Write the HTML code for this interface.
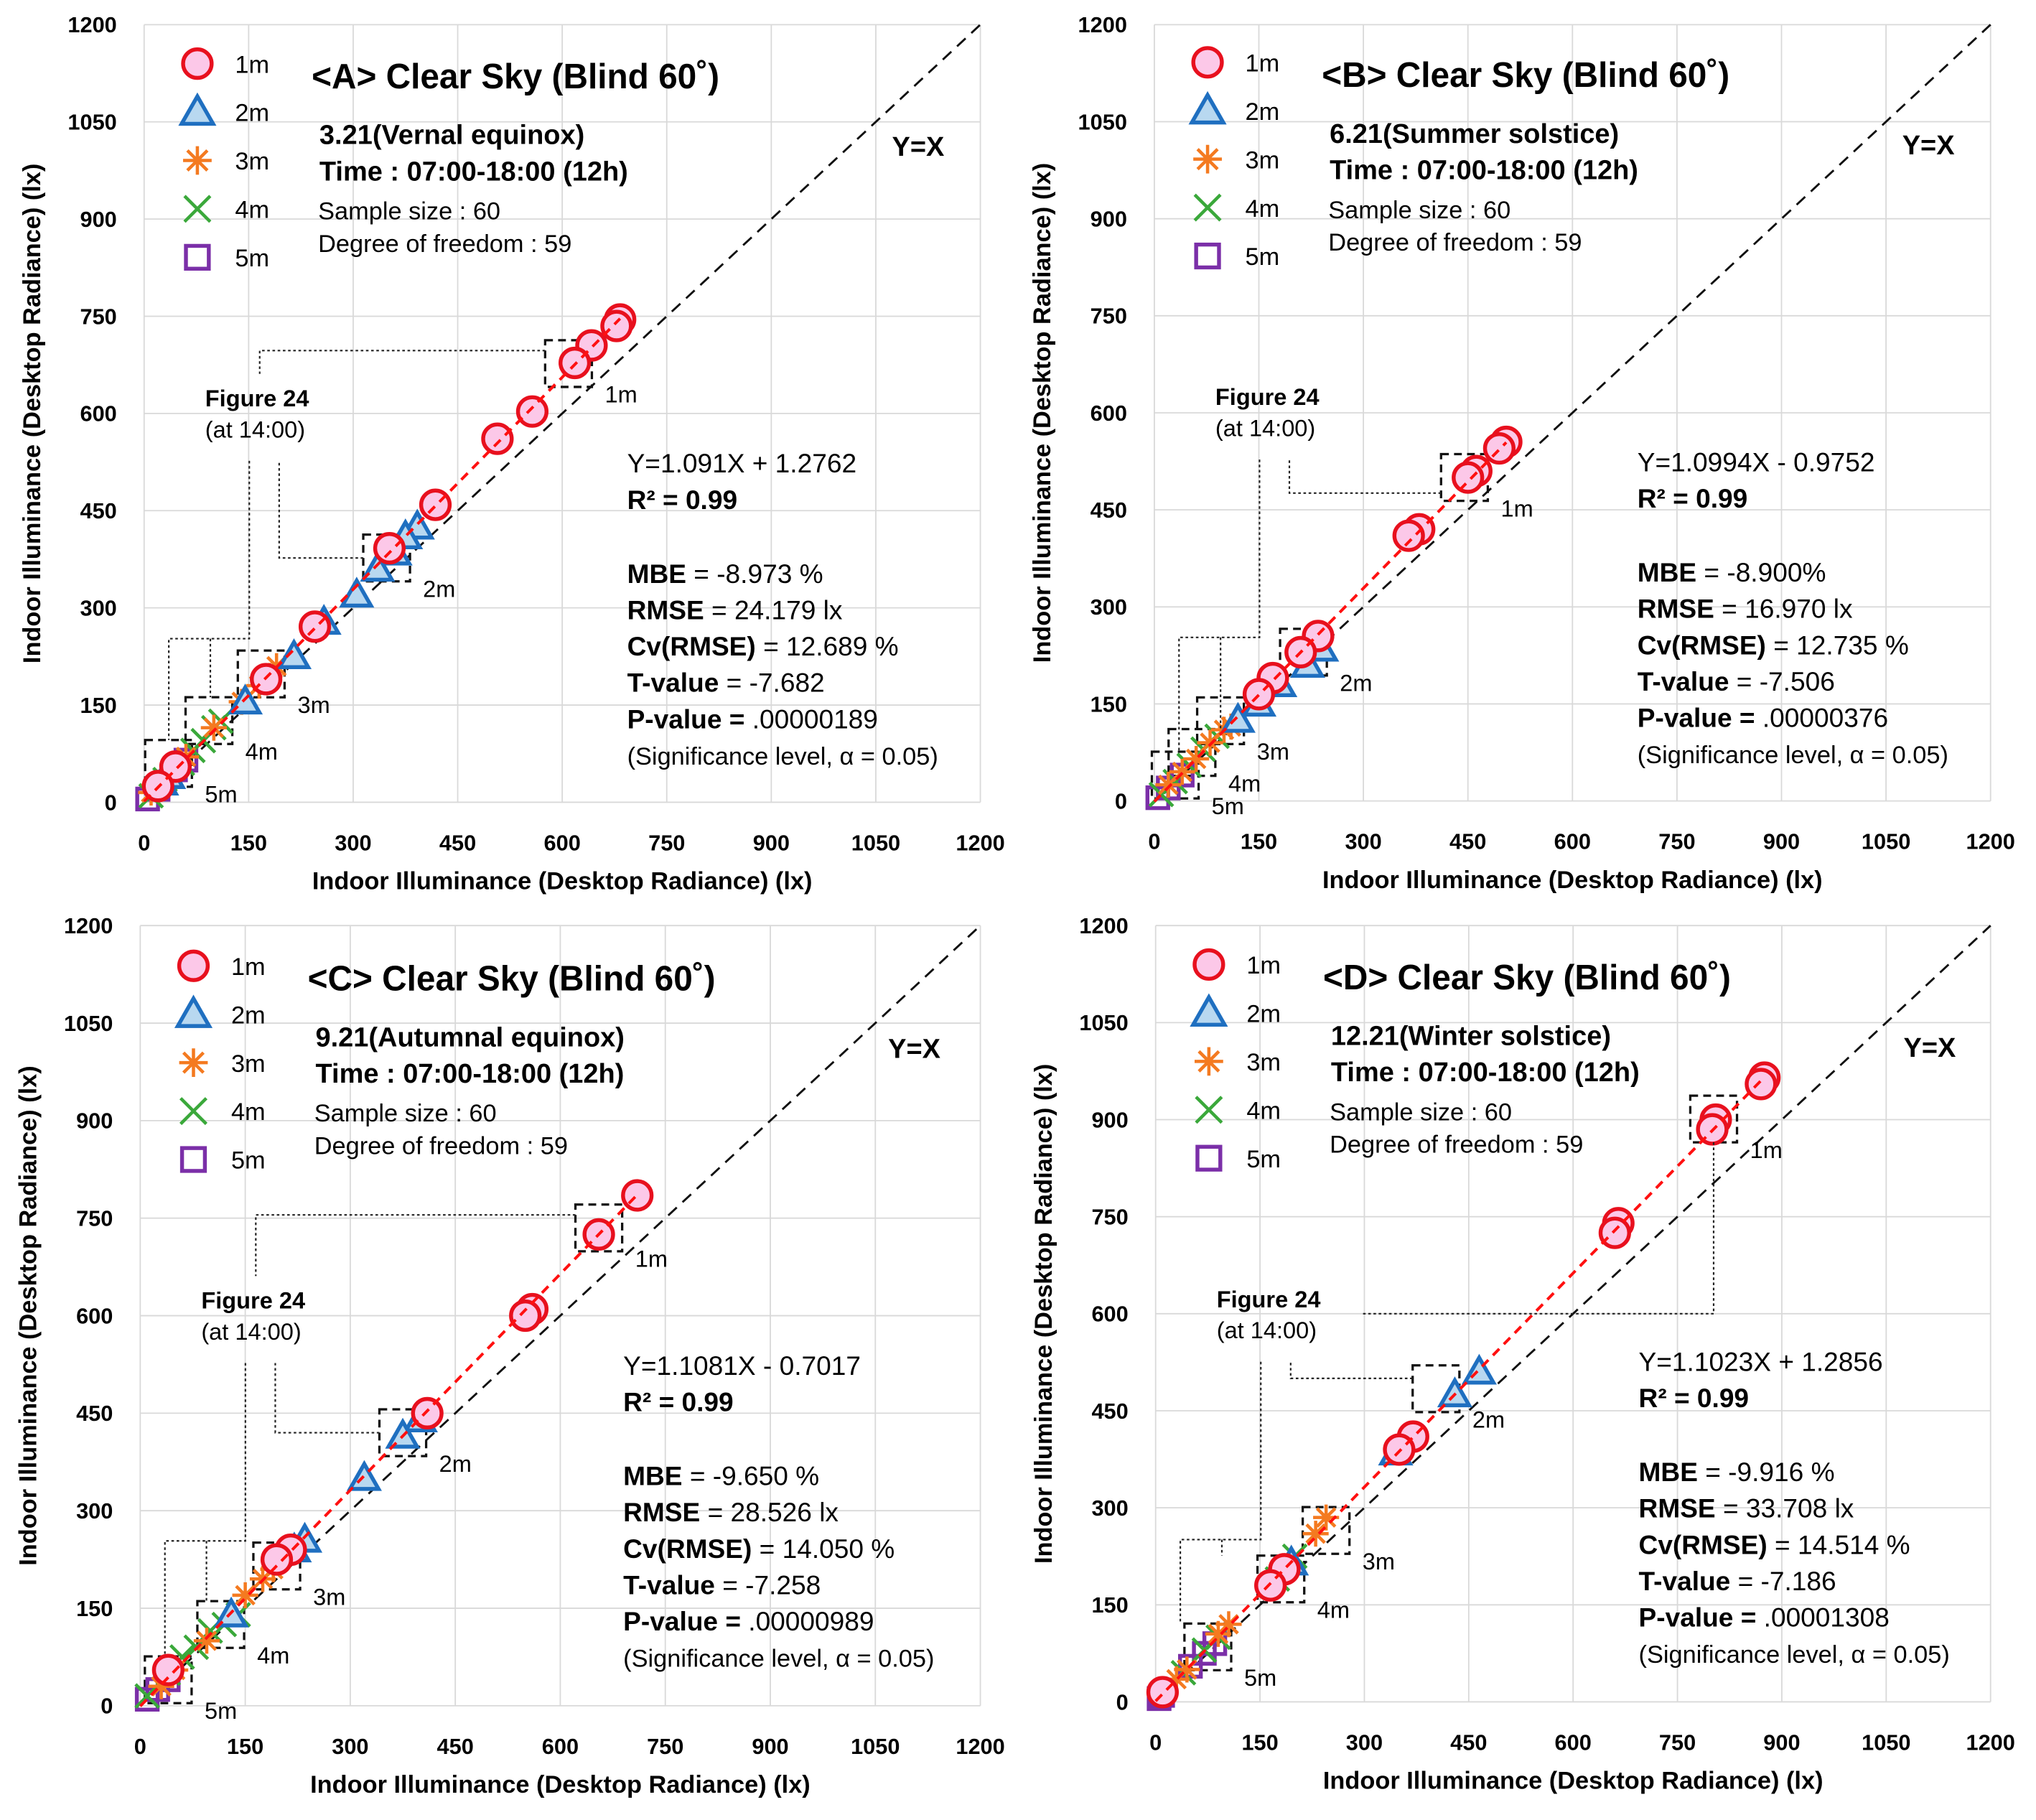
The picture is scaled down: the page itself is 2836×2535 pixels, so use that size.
<!DOCTYPE html>
<html><head><meta charset="utf-8">
<style>
html,body{margin:0;padding:0;background:#fff;}
svg{display:block;font-family:"Liberation Sans","Noto Sans CJK KR",sans-serif;}
</style></head>
<body>
<svg id="chart" width="2836" height="2535" viewBox="0 0 1568 1402" preserveAspectRatio="none" xmlns="http://www.w3.org/2000/svg"></svg>
<script>
const ticks = [0,150,300,450,600,750,900,1050,1200];
const seriesNames = ['1m','2m','3m','4m','5m'];
// Panel A data
const a1m = [[683,745],[678,735],[642,705],[618,678],[557,603],[507,561],[418,459],[352,392],[245,271],[175,190],[45,55],[20,25]];
const a2m = [[392,425],[375,410],[360,385],[335,360],[305,320],[258,278],[215,225],[145,155],[35,40],[25,30]];
const a3m = [[190,210],[180,195],[165,180],[140,155],[100,115],[60,70],[30,30],[10,15]];
const a4m = [[110,125],[100,115],[85,95],[70,80],[55,60],[30,35],[10,10]];
const a5m = [[60,65],[45,50],[20,20],[5,5]];
// Panel B data
const b1m = [[505,555],[495,545],[462,510],[450,500],[380,420],[365,410],[235,255],[210,230],[170,190],[150,165]];
const b2m = [[240,235],[220,210],[180,180],[150,150],[120,125]];
const b3m = [[110,115],[100,110],[80,90],[60,65],[40,45],[20,25]];
const b4m = [[90,100],[70,80],[50,55],[30,30],[10,10]];
const b5m = [[40,40],[20,20],[5,5]];
// Panel C data
const c1m = [[710,785],[655,725],[560,610],[550,600],[410,450],[215,240],[195,225],[40,55]];
const c2m = [[400,440],[375,415],[320,350],[235,255],[220,240],[130,140]];
const c3m = [[190,210],[175,195],[150,170],[95,100],[50,55],[30,30]];
const c4m = [[140,140],[120,125],[100,115],[80,90],[60,75],[40,50],[10,15]];
const c5m = [[40,40],[25,25],[10,10]];
// Panel D data
const d1m = [[875,965],[870,955],[805,900],[800,885],[665,740],[660,725],[370,410],[350,390],[185,205],[165,180],[10,15]];
const d2m = [[465,510],[430,475],[345,385],[195,215]];
const d3m = [[245,285],[230,260],[105,120],[90,105],[45,50],[30,35]];
const d4m = [[200,225],[175,190],[90,100],[70,80],[40,45]];
const d5m = [[85,90],[70,75],[50,55],[10,10],[5,5]];
// regression coefficients
const slopes = [1.091,1.0994,1.1081,1.1023];
const intercepts = [1.2762,-0.9752,-0.7017,1.2856];
// highlighted boxes (data-space centres)
const aBoxes = [[609,677,'1m'],[348,377,'2m'],[168,198,'3m'],[93,126,'4m'],[35,60,'5m']];
const bBoxes = [[445,500,'1m'],[214,230,'2m'],[95,124,'3m'],[54,75,'4m'],[30,40,'5m']];
const cBoxes = [[655,735,'1m'],[375,420,'2m'],[195,215,'3m'],[115,125,'4m'],[40,40,'5m']];
const dBoxes = [[802,901,'1m'],[403,484,'2m'],[245,265,'3m'],[180,190,'4m'],[75,85,'5m']];

const panels = [
 {id:'a',ox:0,oy:0,x0:111,x1:755,y0:618,y1:19,data:[a1m,a2m,a3m,a4m,a5m],boxes:aBoxes,
  title:'<A> Clear Sky (Blind 60˚)',sub:'3.21(Vernal equinox)',eq:'Y=1.091X + 1.2762',
  mbe:'-8.973 %',rmse:'24.179 lx',cv:'12.689 %',t:'-7.682',p:'.00000189',mode:'top',sdy:0},
 {id:'b',ox:778,oy:-1,x0:889,x1:1533,y0:617,y1:19,data:[b1m,b2m,b3m,b4m,b5m],boxes:bBoxes,
  title:'<B> Clear Sky (Blind 60˚)',sub:'6.21(Summer solstice)',eq:'Y=1.0994X - 0.9752',
  mbe:'-8.900%',rmse:'16.970 lx',cv:'12.735 %',t:'-7.506',p:'.00000376',mode:'side',sdy:0},
 {id:'c',ox:-3,oy:695,x0:108,x1:755,y0:1314,y1:713,data:[c1m,c2m,c3m,c4m,c5m],boxes:cBoxes,
  title:'<C> Clear Sky (Blind 60˚)',sub:'9.21(Autumnal equinox)',eq:'Y=1.1081X - 0.7017',
  mbe:'-9.650 %',rmse:'28.526 lx',cv:'14.050 %',t:'-7.258',p:'.00000989',mode:'top',sdy:0},
 {id:'d',ox:779,oy:694,x0:890,x1:1533,y0:1311,y1:713,data:[d1m,d2m,d3m,d4m,d5m],boxes:dBoxes,
  title:'<D> Clear Sky (Blind 60˚)',sub:'12.21(Winter solstice)',eq:'Y=1.1023X + 1.2856',
  mbe:'-9.916 %',rmse:'33.708 lx',cv:'14.514 %',t:'-7.186',p:'.00001308',mode:'down',sdy:-2}
];

const NS='http://www.w3.org/2000/svg';
const svg=document.getElementById('chart');
function mk(tag,attrs,parent,text){
  const e=document.createElementNS(NS,tag);
  for(const k in attrs) e.setAttribute(k,attrs[k]);
  if(text!==undefined) e.textContent=text;
  (parent||svg).appendChild(e);
  return e;
}
const colors=['#e8101e','#1f6fc0','#f47a20','#3aa83a','#7b2fa8'];
const fills=['#fcc8e8','#b8d8f0','none','none','none'];

function marker(g,s,x,y,size){
  let e;
  if(s===0){ e=mk('circle',{cx:x,cy:y,r:size,fill:fills[0],stroke:colors[0],'stroke-width':3},g); }
  else if(s===1){ const h=size*1.1; e=mk('polygon',{points:`${x},${y-h} ${x-h},${y+h*0.75} ${x+h},${y+h*0.75}`,fill:fills[1],stroke:colors[1],'stroke-width':3},g); }
  else if(s===2){ const r=size; e=mk('path',{d:`M${x-r} ${y}H${x+r}M${x-r*0.7} ${y-r*0.7}L${x+r*0.7} ${y+r*0.7}M${x+r*0.7} ${y-r*0.7}L${x-r*0.7} ${y+r*0.7}M${x} ${y-r}V${y+r}`,stroke:colors[2],'stroke-width':2.5,fill:'none'},g); }
  else if(s===3){ const r=size*0.9; e=mk('path',{d:`M${x-r} ${y-r}L${x+r} ${y+r}M${x+r} ${y-r}L${x-r} ${y+r}`,stroke:colors[3],'stroke-width':2.5,fill:'none'},g); }
  else { const r=size*0.8; e=mk('rect',{x:x-r,y:y-r,width:2*r,height:2*r,fill:'none',stroke:colors[4],'stroke-width':3},g); }
  return e;
}

panels.forEach((P,pi)=>{
  const g=mk('g',{});
  
  
  const sx=v=>P.x0+(P.x1-P.x0)*v/1200;
  const sy=v=>P.y0+(P.y1-P.y0)*v/1200;
  const X=v=>v+P.ox, Y=v=>v+P.oy;
  ticks.forEach(t=>{
    const gl=mk('line',{x1:sx(t),x2:sx(t),y1:P.y0,y2:P.y1,stroke:'#d9d9d9','stroke-width':1},g);
    
    
    const gh=mk('line',{x1:P.x0,x2:P.x1,y1:sy(t),y2:sy(t),stroke:'#d9d9d9','stroke-width':1},g);
    
    
    const xt=mk('text',{x:sx(t),y:P.y0+37,'text-anchor':'middle','font-size':17,'font-weight':'bold'},g,String(t));
    
    
    const yt=mk('text',{x:P.x0-21,y:sy(t)+6,'text-anchor':'end','font-size':17,'font-weight':'bold'},g,String(t));
    
    
  });
  const xa=mk('text',{x:(P.x0+P.x1)/2,y:P.y0+67,'text-anchor':'middle','font-size':19,'font-weight':'bold'},g,'Indoor Illuminance (Desktop Radiance) (lx)');
  
  
  const yx=P.x0-80, ym=(P.y0+P.y1)/2;
  const ya=mk('text',{x:yx,y:ym,'text-anchor':'middle','font-size':19,'font-weight':'bold',transform:`rotate(-90 ${yx} ${ym})`},g,'Indoor Illuminance (Desktop Radiance) (lx)');
  
  
  const idl=mk('line',{x1:sx(0),y1:sy(0),x2:sx(1200),y2:sy(1200),stroke:'#111','stroke-width':1.6,'stroke-dasharray':'9 6'},g);
  
  
  P.boxes.forEach(b=>{
    const bx=sx(b[0]),by=sy(b[1]);
    const r=mk('rect',{x:bx-18,y:by-18,width:36,height:36,fill:'none',stroke:'#111','stroke-width':1.8,'stroke-dasharray':'6 4'},g);
    
    
    const l=mk('text',{x:bx+28,y:by+30,'font-size':18},g,b[2]);
    
    
  });
  for(let s=4;s>=0;s--){
    P.data[s].forEach(pt=>{
      const m=marker(g,s,sx(pt[0]),sy(pt[1]),s===0?11:10);
      
      
    });
  }
  const all=P.data[0];
  const xmax=Math.max(...all.map(p=>p[0]));
  const rl=mk('line',{x1:sx(0),y1:sy(intercepts[pi]),x2:sx(xmax),y2:sy(slopes[pi]*xmax+intercepts[pi]),stroke:'#ff1010','stroke-width':2.2,'stroke-dasharray':'7 5'},g);
  
  
  const leg=mk('g',{},g);
  
  
  seriesNames.forEach((n,i)=>{
    const ly=Y(49+i*37.3);
    const m=marker(leg,i,X(152),ly,11);
    
    
    const t=mk('text',{x:X(181),y:ly+7,'font-size':19},leg,n);
    
    
  });
  const tt=mk('text',{x:X(240),y:Y(68),'font-size':27,'font-weight':'bold',textLength:314,lengthAdjust:'spacingAndGlyphs'},g,P.title);
  
  
  const st=mk('text',{x:X(246),y:Y(111),'font-size':21,'font-weight':'bold'},g,P.sub);
  
  
  const tm=mk('text',{x:X(246),y:Y(139),'font-size':21,'font-weight':'bold'},g,'Time : 07:00-18:00 (12h)');
  
  
  const ss=mk('text',{x:X(245),y:Y(169),'font-size':19},g,'Sample size : 60');
  
  
  const df=mk('text',{x:X(245),y:Y(194),'font-size':19},g,'Degree of freedom : 59');
  
  
  const yxl=mk('text',{x:X(687),y:Y(120),'font-size':21,'font-weight':'bold'},g,'Y=X');
  
  
  const by=P.sdy;
  const lines=[
    ['regression-equation',[['',P.eq]],364],
    ['r-squared',[['b','R² = 0.99']],392],
    ['mbe',[['b','MBE'],['',' = '+P.mbe]],449],
    ['rmse',[['b','RMSE'],['',' = '+P.rmse]],477],
    ['cv-rmse',[['b','Cv(RMSE)'],['',' = '+P.cv]],505],
    ['t-value',[['b','T-value'],['',' = '+P.t]],533],
    ['p-value',[['b','P-value = '],['',P.p]],561],
    ['significance-note',[['','(Significance level, α = 0.05)']],589]
  ];
  lines.forEach(L=>{
    const t=mk('text',{x:X(483),y:Y(L[2]+by),'font-size':L[0]==='significance-note'?19:20.5},g);
    
    
    L[1].forEach(seg=>{ mk('tspan',{'font-weight':seg[0]==='b'?'bold':'normal'},t,seg[1]); });
  });
  const fx=X(158), fy=Y(313);
  const f1=mk('text',{x:fx,y:fy,'font-size':18,'font-weight':'bold'},g,'Figure 24');
  
  
  const f2=mk('text',{x:fx,y:fy+24,'font-size':18},g,'(at 14:00)');
  
  
  const b1=P.boxes[0], b2=P.boxes[1];
  const pts=[];
  if(P.mode==='top'){
    pts.push(`M${sx(b1[0])-18} ${sy(b1[1])-10} H${X(200)} V${Y(288)}`);
    pts.push(`M${sx(b2[0])-18} ${sy(b2[1])} H${X(215)} V${Y(355)}`);
  } else if(P.mode==='side'){
    pts.push(`M${sx(b1[0])-18} ${sy(b1[1])+12} H${X(215)} V${Y(355)}`);
  } else {
    pts.push(`M${sx(b1[0])} ${sy(b1[1])+18} V${Y(318)} H${X(270)}`);
    pts.push(`M${sx(b2[0])-18} ${sy(b2[1])-8} H${X(215)} V${Y(355)}`);
  }
  pts.push(`M${X(192)} ${Y(355)} V${Y(492)} H${X(130)} V${sy(P.boxes[4][1])-18}`);
  pts.push(`M${X(162)} ${Y(492)} V${sy(P.boxes[3][1])-18}`);
  const an=mk('path',{d:pts.join(' '),fill:'none',stroke:'#222','stroke-width':1.2,'stroke-dasharray':'2 2'},g);
  
  
});
</script>
</body></html>
